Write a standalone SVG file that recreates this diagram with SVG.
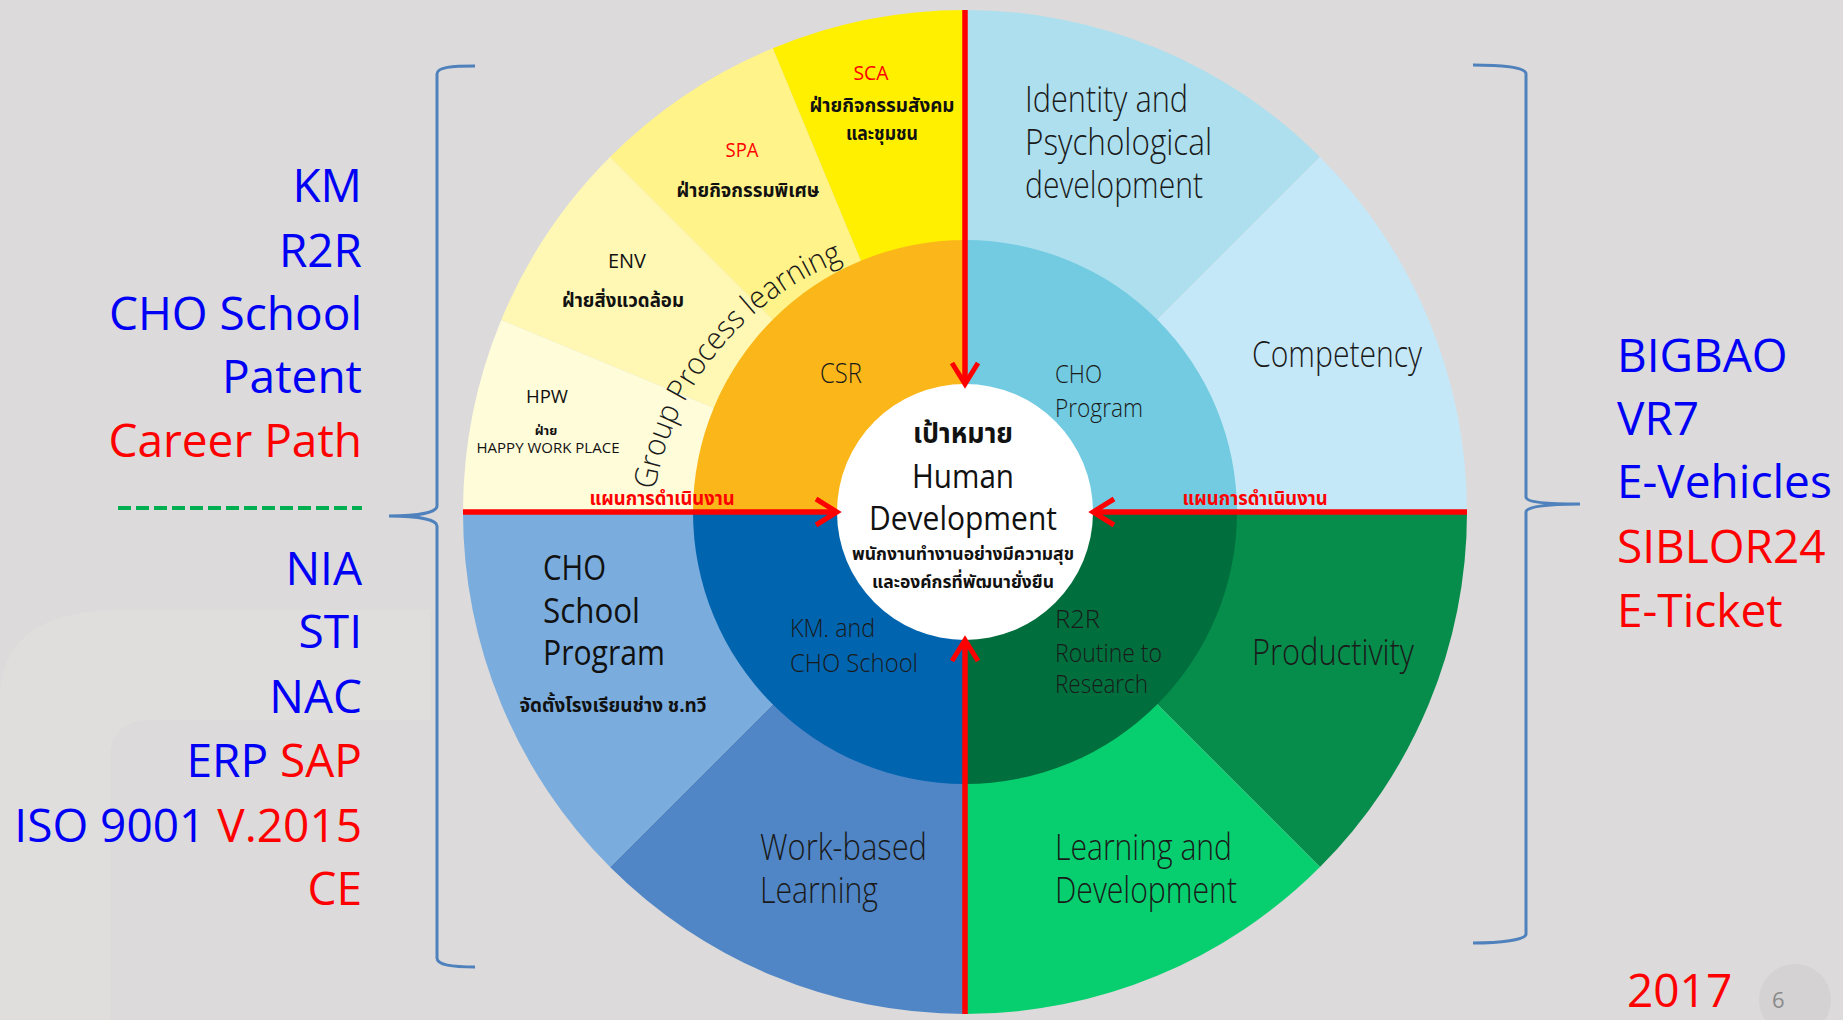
<svg xmlns="http://www.w3.org/2000/svg" width="1843" height="1020" viewBox="0 0 1843 1020">
<defs>
<style>
.side{font-family:"Open Sans","Liberation Sans",sans-serif;font-size:46px}
.blue{fill:#0000F5}
.red{fill:#FF0000}
.lbl{font-family:"Open Sans","Noto Sans","DejaVu Sans",sans-serif;font-weight:300;fill:#1a1a1a}
.med{font-family:"Open Sans","Noto Sans","DejaVu Sans",sans-serif;font-weight:500;fill:#111}
.th{font-family:"Noto Sans Thai","Noto Sans","DejaVu Sans",sans-serif;font-weight:700;fill:#111}
.ctr{text-anchor:middle}
.arrow{stroke:#FF0000;stroke-width:5.5;fill:none}
.brace{stroke:#4F81BD;stroke-width:3;fill:none}
</style>
<marker id="chev" markerUnits="userSpaceOnUse" markerWidth="30" markerHeight="34" refX="24" refY="16" orient="auto">
<path d="M3,3 L24,16 L3,29" stroke="#FF0000" stroke-width="5" fill="none" stroke-linejoin="miter"/>
</marker>
<path id="gpl" d="M655,490 A300,300 0 0,1 845,260"/>
</defs>

<rect width="1843" height="1020" fill="#DCDADA"/>
<path d="M0,700 Q0,610 120,610 L430,610 L430,720 L150,720 Q110,720 110,760 L110,1020 L0,1020 Z" fill="#E2E0E0" opacity="0.6"/>

<g id="left-list" class="side" text-anchor="end">
<text x="362" y="202" class="blue">KM</text>
<text x="362" y="267" class="blue">R2R</text>
<text x="362" y="330" class="blue">CHO School</text>
<text x="362" y="393" class="blue">Patent</text>
<text x="362" y="457" class="red">Career Path</text>
<text x="362" y="585" class="blue">NIA</text>
<text x="362" y="648" class="blue">STI</text>
<text x="362" y="713" class="blue">NAC</text>
<text x="362" y="777"><tspan class="blue">ERP </tspan><tspan class="red">SAP</tspan></text>
<text x="362" y="842"><tspan class="blue">ISO 9001 </tspan><tspan class="red">V.2015</tspan></text>
<text x="362" y="905" class="red">CE</text>
</g>
<line x1="118" y1="508" x2="362" y2="508" stroke="#00B050" stroke-width="4" stroke-dasharray="13,5"/>

<g id="right-list" class="side">
<text x="1617" y="372" class="blue">BIGBAO</text>
<text x="1617" y="435" class="blue">VR7</text>
<text x="1617" y="498" class="blue">E-Vehicles</text>
<text x="1617" y="563" class="red">SIBLOR24</text>
<text x="1617" y="627" class="red">E-Ticket</text>
<text x="1627" y="1007" class="red">2017</text>
</g>

<g id="page-no">
<circle cx="1795" cy="1000" r="36" fill="#D0CECE" opacity="0.7"/>
<text x="1772" y="1008" font-family="Open Sans, sans-serif" font-size="22" fill="#8a8a8a">6</text>
</g>

<g id="braces">
<path class="brace" d="M475,66 C452,66 437,67 437,74 L437,506 C437,512 420,516 389,516 C420,516 437,520 437,526 L437,958 C437,965 452,967 475,967"/>
<path class="brace" d="M1473,65 C1500,65 1526,67 1526,74 L1526,497 C1526,502 1545,504 1580,504 C1545,504 1526,507 1526,512 L1526,934 C1526,940 1500,943 1473,943"/>
</g>

<g id="seg-hpw">
<path d="M965,512 L463,512 A502,502 0 0,1 501.21,319.89 Z" fill="#FFFCDA"/>
<text x="547" y="403" class="med ctr" font-size="19" textLength="42" lengthAdjust="spacingAndGlyphs">HPW</text>
<text x="546" y="435" class="th ctr" font-size="13">ฝ่าย</text>
<text x="548" y="453" class="med ctr" font-size="15" textLength="143" lengthAdjust="spacingAndGlyphs">HAPPY WORK PLACE</text>
</g>
<g id="seg-env">
<path d="M965,512 L501.21,319.89 A502,502 0 0,1 610.03,157.03 Z" fill="#FFF8B5"/>
<text x="627" y="268" class="med ctr" font-size="20" textLength="38" lengthAdjust="spacingAndGlyphs">ENV</text>
<text x="623" y="307" class="th ctr" font-size="19" textLength="122" lengthAdjust="spacingAndGlyphs">ฝ่ายสิ่งแวดล้อม</text>
</g>
<g id="seg-spa">
<path d="M965,512 L610.03,157.03 A502,502 0 0,1 772.89,48.21 Z" fill="#FFF389"/>
<text x="742" y="157" class="ctr" font-family="Open Sans, sans-serif" font-size="20" fill="#FF0000" textLength="33" lengthAdjust="spacingAndGlyphs">SPA</text>
<text x="748" y="197" class="th ctr" font-size="19" textLength="143" lengthAdjust="spacingAndGlyphs">ฝ่ายกิจกรรมพิเศษ</text>
</g>
<g id="seg-sca">
<path d="M965,512 L772.89,48.21 A502,502 0 0,1 965,10 Z" fill="#FFF000"/>
<text x="871" y="80" class="ctr" font-family="Open Sans, sans-serif" font-size="20" fill="#FF0000" textLength="35" lengthAdjust="spacingAndGlyphs">SCA</text>
<text x="882" y="112" class="th ctr" font-size="19" textLength="145" lengthAdjust="spacingAndGlyphs">ฝ่ายกิจกรรมสังคม</text>
<text x="882" y="140" class="th ctr" font-size="19" textLength="72" lengthAdjust="spacingAndGlyphs">และชุมชน</text>
</g>
<g id="seg-identity">
<path d="M965,512 L965,10 A502,502 0 0,1 1319.97,157.03 Z" fill="#AEDFEE"/>
<text x="1025" y="112" class="lbl" font-size="36" textLength="163" lengthAdjust="spacingAndGlyphs">Identity and</text>
<text x="1025" y="155" class="lbl" font-size="36" textLength="187" lengthAdjust="spacingAndGlyphs">Psychological</text>
<text x="1025" y="198" class="lbl" font-size="36" textLength="178" lengthAdjust="spacingAndGlyphs">development</text>
</g>
<g id="seg-competency">
<path d="M965,512 L1319.97,157.03 A502,502 0 0,1 1467,512 Z" fill="#C5E8F8"/>
<text x="1252" y="367" class="lbl" font-size="36" textLength="170" lengthAdjust="spacingAndGlyphs">Competency</text>
</g>
<g id="seg-productivity">
<path d="M965,512 L1467,512 A502,502 0 0,1 1319.97,866.97 Z" fill="#068C4B"/>
<text x="1252" y="665" class="lbl" font-size="36" textLength="162" lengthAdjust="spacingAndGlyphs">Productivity</text>
</g>
<g id="seg-learning-dev">
<path d="M965,512 L1319.97,866.97 A502,502 0 0,1 965,1014 Z" fill="#07CF6F"/>
<text x="1055" y="860" class="lbl" font-size="36" textLength="177" lengthAdjust="spacingAndGlyphs">Learning and</text>
<text x="1055" y="903" class="lbl" font-size="36" textLength="182" lengthAdjust="spacingAndGlyphs">Development</text>
</g>
<g id="seg-work-based">
<path d="M965,512 L965,1014 A502,502 0 0,1 610.03,866.97 Z" fill="#5086C6"/>
<text x="760" y="860" class="lbl" font-size="36" textLength="167" lengthAdjust="spacingAndGlyphs">Work-based</text>
<text x="760" y="903" class="lbl" font-size="36" textLength="118" lengthAdjust="spacingAndGlyphs">Learning</text>
</g>
<g id="seg-cho-school-program">
<path d="M965,512 L610.03,866.97 A502,502 0 0,1 463,512 Z" fill="#7AADDD"/>
<text x="543" y="580" class="med" font-size="34" font-weight="600" textLength="63" lengthAdjust="spacingAndGlyphs">CHO</text>
<text x="543" y="623" class="med" font-size="34" font-weight="600" textLength="97" lengthAdjust="spacingAndGlyphs">School</text>
<text x="543" y="665" class="med" font-size="34" font-weight="600" textLength="122" lengthAdjust="spacingAndGlyphs">Program</text>
<text x="613" y="712" class="th ctr" font-size="20" textLength="187" lengthAdjust="spacingAndGlyphs">จัดตั้งโรงเรียนช่าง ช.ทวี</text>
</g>

<g id="inner-csr">
<path d="M965,512 L693,512 A272,272 0 0,1 965,240 Z" fill="#FBB719"/>
<text x="820" y="383" class="lbl" font-size="28" textLength="42" lengthAdjust="spacingAndGlyphs">CSR</text>
</g>
<g id="inner-cho-program">
<path d="M965,512 L965,240 A272,272 0 0,1 1237,512 Z" fill="#72CBE0"/>
<text x="1055" y="383" class="lbl" font-size="25" textLength="47" lengthAdjust="spacingAndGlyphs">CHO</text>
<text x="1055" y="417" class="lbl" font-size="25" textLength="88" lengthAdjust="spacingAndGlyphs">Program</text>
</g>
<g id="inner-r2r">
<path d="M965,512 L1237,512 A272,272 0 0,1 965,784 Z" fill="#006F3D"/>
<text x="1055" y="628" class="lbl" font-size="25" textLength="45" lengthAdjust="spacingAndGlyphs">R2R</text>
<text x="1055" y="662" class="lbl" font-size="25" textLength="107" lengthAdjust="spacingAndGlyphs">Routine to</text>
<text x="1055" y="693" class="lbl" font-size="25" textLength="93" lengthAdjust="spacingAndGlyphs">Research</text>
</g>
<g id="inner-km">
<path d="M965,512 L965,784 A272,272 0 0,1 693,512 Z" fill="#0064AF"/>
<text x="790" y="637" class="lbl" font-size="25" textLength="85" lengthAdjust="spacingAndGlyphs">KM. and</text>
<text x="790" y="672" class="lbl" font-size="25" textLength="128" lengthAdjust="spacingAndGlyphs">CHO School</text>
</g>

<g id="group-process-label">
<text class="lbl" font-size="31" fill="#222"><textPath href="#gpl" textLength="310" lengthAdjust="spacingAndGlyphs">Group Process learning</textPath></text>
</g>

<g id="center-goal">
<circle cx="965" cy="512" r="128" fill="#FFFFFF"/>
<text x="963" y="443" class="th ctr" font-size="28" textLength="100" lengthAdjust="spacingAndGlyphs">เป้าหมาย</text>
<text x="963" y="488" class="med ctr" font-size="32" font-weight="600" textLength="102" lengthAdjust="spacingAndGlyphs">Human</text>
<text x="963" y="530" class="med ctr" font-size="32" font-weight="600" textLength="188" lengthAdjust="spacingAndGlyphs">Development</text>
<text x="963" y="560" class="th ctr" font-size="18" textLength="222" lengthAdjust="spacingAndGlyphs">พนักงานทำงานอย่างมีความสุข</text>
<text x="963" y="588" class="th ctr" font-size="18" textLength="182" lengthAdjust="spacingAndGlyphs">และองค์กรที่พัฒนายั่งยืน</text>
</g>

<g id="connectors">
<line class="arrow" x1="965" y1="10" x2="965" y2="384" marker-end="url(#chev)"/>
<line class="arrow" x1="965" y1="1014" x2="965" y2="640" marker-end="url(#chev)"/>
<line class="arrow" x1="463" y1="512" x2="837" y2="512" marker-end="url(#chev)"/>
<line class="arrow" x1="1467" y1="512" x2="1093" y2="512" marker-end="url(#chev)"/>
<text x="662" y="505" class="th ctr" font-size="19" style="fill:#FF0000" textLength="145" lengthAdjust="spacingAndGlyphs">แผนการดำเนินงาน</text>
<text x="1255" y="505" class="th ctr" font-size="19" style="fill:#FF0000" textLength="145" lengthAdjust="spacingAndGlyphs">แผนการดำเนินงาน</text>
</g>
</svg>
